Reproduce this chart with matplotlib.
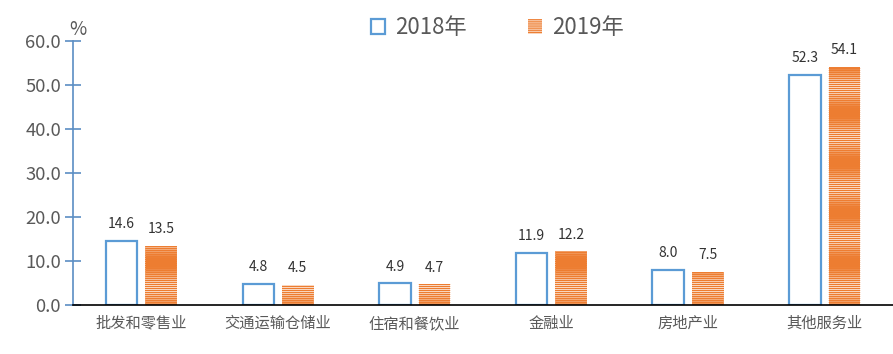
import numpy as np
import matplotlib
matplotlib.use('Agg')
import matplotlib.pyplot as plt

plt.rcParams['font.family'] = ['Noto Sans CJK SC', 'DejaVu Sans']
plt.rcParams['hatch.linewidth'] = 1.0

# 数据
categories = ['批发和零售业', '交通运输仓储业', '住宿和餐饮业', '金融业', '房地产业', '其他服务业']
vals_2018 = [14.6, 4.8, 4.9, 11.9, 8.0, 52.3]
vals_2019 = [13.5, 4.5, 4.7, 12.2, 7.5, 54.1]
yticks = [0, 10, 20, 30, 40, 50, 60]

blue = '#5B9BD5'
orange = '#ED7D31'
gray = '#595959'

fig = plt.figure(figsize=(8.93, 3.54), dpi=100)
ax = fig.add_axes([0.0818, 0.1384, 0.9182, 0.7458])

x = np.arange(len(categories))
w = 0.23
b1 = ax.bar(x - 0.145, vals_2018, w, facecolor='white', edgecolor=blue, linewidth=1.6, label='2018年')
b2 = ax.bar(x + 0.145, vals_2019, w, facecolor='white', edgecolor=orange, linewidth=0,
            hatch='--------', label='2019年')

ax.set_xlim(-0.5, len(categories) - 0.5)
ax.set_ylim(0, 60)

# 横条纹填充: 每 2 像素一条 1 像素宽的橙线, 线放在像素中心
y0 = ax.bbox.y0
px = ax.bbox.height / 60  # 每单位像素数
for r in b2:
    h = r.get_height()
    disp = np.arange(np.ceil(y0) + 0.5, y0 + h * px, 2)
    ys = (disp - y0) / px
    ax.hlines(ys, r.get_x(), r.get_x() + r.get_width(), colors=orange,
              linewidth=0.72, snap=False, zorder=2)

for bars, vals in [(b1, vals_2018), (b2, vals_2019)]:
    for r, v in zip(bars, vals):
        ax.annotate(f'{v:.1f}', (r.get_x() + r.get_width() / 2, v), xytext=(0, 7),
                    textcoords='offset points', ha='center', va='bottom', fontsize=10, color='#333333')

ax.set_yticks(yticks)
ax.set_yticklabels([f'{t:.1f}' for t in yticks], fontsize=13.3, color=gray)
ax.set_xticks(x)
ax.set_xticklabels(categories, fontsize=11, color=gray)
ax.tick_params(axis='x', length=0, pad=7)
ax.tick_params(axis='y', direction='inout', length=11.5, width=1.2, color='#5B8EC4', pad=3)

for s in ['top', 'right']:
    ax.spines[s].set_visible(False)
ax.spines['left'].set_color('#5B8EC4')
ax.spines['left'].set_linewidth(1.2)
ax.spines['bottom'].set_color('black')
ax.spines['bottom'].set_linewidth(1.2)
ax.spines['bottom'].set_zorder(3)

fig.text(0.078, 0.902, '%', fontsize=13.5, color=gray)

fig.legend(handles=[b1, b2], loc='center', bbox_to_anchor=(0.557, 0.922), ncol=2, frameon=False,
           fontsize=16, handlelength=0.65, handleheight=0.65, handletextpad=0.45, columnspacing=2.75,
           labelcolor=gray)

fig.savefig('out.png', dpi=100)
